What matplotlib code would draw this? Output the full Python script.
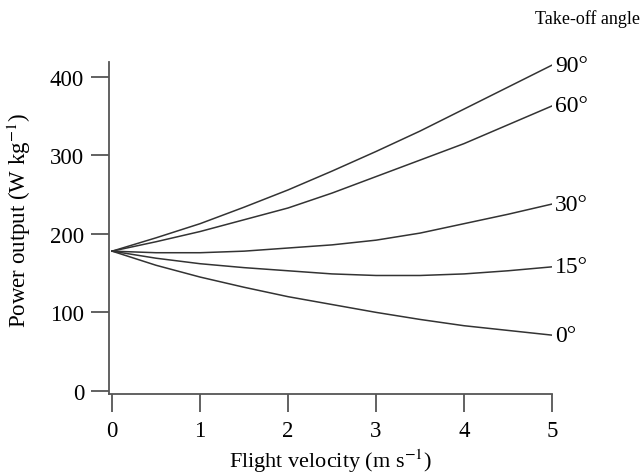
import matplotlib
matplotlib.use("Agg")
import matplotlib.pyplot as plt

# ── data ──────────────────────────────────────────────────────────────────────
velocity = [0, 0.5, 1, 1.5, 2, 2.5, 3, 3.5, 4, 4.5, 5]

angles = ["90°", "60°", "30°", "15°", "0°"]
power_90 = [178, 195, 213, 234, 256, 280, 305, 331, 359, 387, 415]
power_60 = [178, 190, 203, 218, 233, 252, 273, 294, 315, 339, 363]
power_30 = [178, 176, 176, 178, 182, 186, 192, 201, 213, 225, 238]
power_15 = [178, 169, 162, 157, 153, 149, 147, 147, 149, 153, 158]
power_0  = [178, 160, 145, 132, 120, 110, 100, 91, 83, 77, 71]

x_ticks = [0, 1, 2, 3, 4, 5]
y_ticks = [0, 100, 200, 300, 400]

LINE_COLOR  = "#333333"
SPINE_COLOR = "#555555"

plt.rcParams["font.family"] = ["Liberation Serif", "DejaVu Serif"]
plt.rcParams["mathtext.fontset"] = "stix"

W, H = 643, 477
fig = plt.figure(figsize=(W / 100, H / 100), dpi=100)
left, right, top, bottom = 109, 552, 63, 395
ax = fig.add_axes([left / W, 1 - bottom / H, (right - left) / W, (bottom - top) / H])

series = [power_90, power_60, power_30, power_15, power_0]
for label, vals in zip(angles, series):
    ax.plot(velocity, vals, color=LINE_COLOR, linewidth=1.1)
    ax.annotate(label, xy=(velocity[-1], vals[-1]), xytext=(2, 0),
                textcoords="offset points", ha="left", va="center",
                fontsize=17, annotation_clip=False)

ax.set_xlim(-0.035, 5.0)
ax.set_ylim(-4, 419)
ax.set_xticks(x_ticks)
ax.set_yticks(y_ticks)

for side in ("top", "right"):
    ax.spines[side].set_visible(False)
for side in ("left", "bottom"):
    ax.spines[side].set_color(SPINE_COLOR)
    ax.spines[side].set_linewidth(1.3)

ax.tick_params(axis="both", length=13, width=1.3, color=SPINE_COLOR,
               labelsize=16.5)
ax.tick_params(axis="y", pad=5)
ax.tick_params(axis="x", pad=6)

ax.set_xlabel("Flight velocity (m s$^{-1}$)", fontsize=16, labelpad=4)
ax.set_ylabel("Power output (W kg$^{-1}$)", fontsize=16.5)
ax.yaxis.set_label_coords(-0.172, 0.525)

fig.text(640 / W, 1 - 19 / H, "Take-off angle", ha="right", va="center",
         fontsize=13)

fig.savefig("out.png", dpi=100)
